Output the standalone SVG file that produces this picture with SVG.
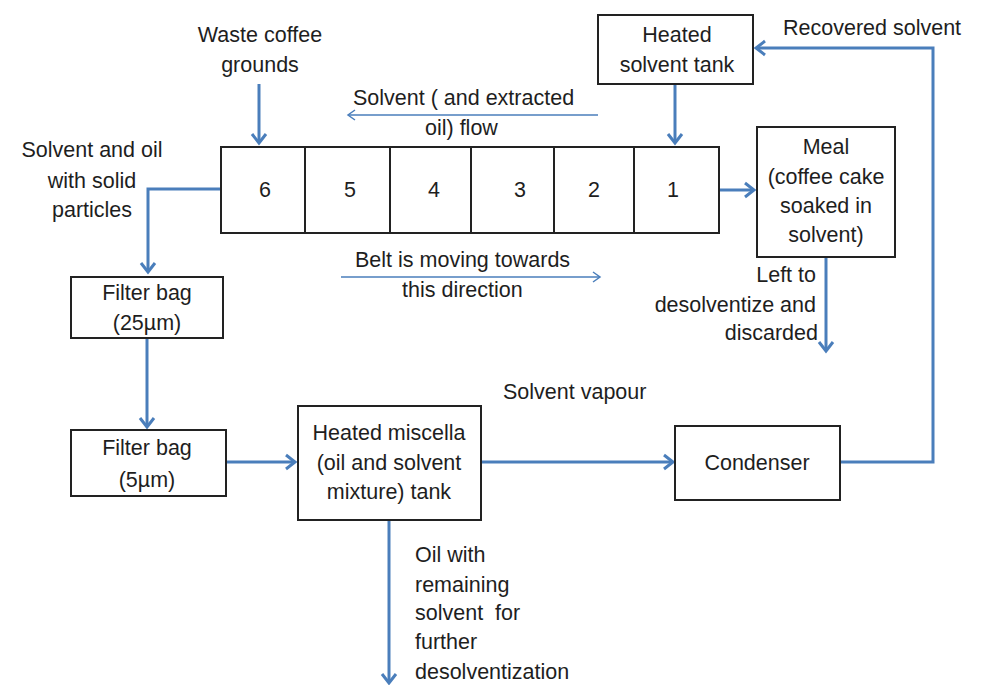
<svg xmlns="http://www.w3.org/2000/svg" width="982" height="685" viewBox="0 0 982 685">
<style>
text{font-family:"Liberation Sans",Arial,sans-serif;font-size:21.5px;fill:#1e1e1e;white-space:pre}
.c{text-anchor:middle}
.e{text-anchor:end}
.box{fill:#fff;stroke:#222;stroke-width:2}
.w{fill:none;stroke:#4a7ebb;stroke-width:3}
.t{fill:none;stroke:#4a7ebb;stroke-width:1.5}
</style>
<defs>
<marker id="ah" markerUnits="userSpaceOnUse" viewBox="-12 -9 14 18" refX="0" refY="0" markerWidth="14" markerHeight="18" orient="auto" overflow="visible">
<path d="M-9,-7 L0,0 L-9,7" fill="none" stroke="#4a7ebb" stroke-width="3"/>
</marker>
<marker id="ahs" markerUnits="userSpaceOnUse" viewBox="-10 -6 12 12" refX="0" refY="0" markerWidth="12" markerHeight="12" orient="auto" overflow="visible">
<path d="M-7,-5 L0,0 L-7,5" fill="none" stroke="#4a7ebb" stroke-width="1.5"/>
</marker>
</defs>
<rect width="982" height="685" fill="#fff"/>

<g id="connectors">
<path class="w" d="M259,84 V143" marker-end="url(#ah)"/>
<path class="w" d="M675,84 V143" marker-end="url(#ah)"/>
<path class="w" d="M719,190 H754" marker-end="url(#ah)"/>
<path class="w" d="M221,189 H148 V272" marker-end="url(#ah)"/>
<path class="w" d="M147,338 V427" marker-end="url(#ah)"/>
<path class="w" d="M226,462 H295" marker-end="url(#ah)"/>
<path class="w" d="M481,462 H673" marker-end="url(#ah)"/>
<path class="w" d="M840,462 H933 V48 H756" marker-end="url(#ah)"/>
<path class="w" d="M826,257 V351" marker-end="url(#ah)"/>
<path class="w" d="M389,520 V683" marker-end="url(#ah)"/>
<path class="t" d="M598,115 H348" marker-end="url(#ahs)"/>
<path class="t" d="M341,277 H600" marker-end="url(#ahs)"/>
</g>

<g id="belt">
<rect class="box" x="221" y="147" width="498" height="86"/>
<path d="M305,147 V233 M390,147 V233 M471,147 V233 M554,147 V233 M634,147 V233" stroke="#222" stroke-width="2"/>
<text class="c" x="265" y="197">6</text>
<text class="c" x="350" y="197">5</text>
<text class="c" x="434" y="197">4</text>
<text class="c" x="520" y="197">3</text>
<text class="c" x="594" y="197">2</text>
<text class="c" x="673" y="197">1</text>
</g>

<g id="heated-solvent-tank">
<rect class="box" x="598" y="15" width="155" height="69"/>
<text class="c" x="677" y="42">Heated</text>
<text class="c" x="677" y="72">solvent tank</text>
</g>

<g id="meal">
<rect class="box" x="757" y="127" width="138" height="130"/>
<text class="c" x="826" y="154">Meal</text>
<text class="c" x="826" y="184">(coffee cake</text>
<text class="c" x="826" y="213">soaked in</text>
<text class="c" x="826" y="242">solvent)</text>
</g>

<g id="filter-bag-25">
<rect class="box" x="71" y="277" width="152" height="61"/>
<text class="c" x="147" y="300">Filter bag</text>
<text class="c" x="147" y="330">(25µm)</text>
</g>

<g id="filter-bag-5">
<rect class="box" x="71" y="430" width="155" height="66"/>
<text class="c" x="147" y="455">Filter bag</text>
<text class="c" x="147" y="487">(5µm)</text>
</g>

<g id="heated-miscella-tank">
<rect class="box" x="298" y="406" width="183" height="114"/>
<text class="c" x="389" y="440">Heated miscella</text>
<text class="c" x="389" y="470">(oil and solvent</text>
<text class="c" x="389" y="499">mixture) tank</text>
</g>

<g id="condenser">
<rect class="box" x="675" y="426" width="165" height="74"/>
<text class="c" x="757" y="470">Condenser</text>
</g>

<g id="labels">
<text class="c" x="260" y="42">Waste coffee</text>
<text class="c" x="260" y="72">grounds</text>
<text x="353" y="105">Solvent ( and extracted</text>
<text x="425" y="135">oil) flow</text>
<text x="355" y="267">Belt is moving towards</text>
<text x="402" y="297">this direction</text>
<text class="c" x="92" y="157">Solvent and oil</text>
<text class="c" x="92" y="188">with solid</text>
<text class="c" x="92" y="217">particles</text>
<text x="783" y="35">Recovered solvent</text>
<text class="e" x="816" y="282">Left to</text>
<text class="e" x="816" y="312">desolventize and</text>
<text class="e" x="818" y="340">discarded</text>
<text x="503" y="399">Solvent vapour</text>
<text x="415" y="562">Oil with</text>
<text x="415" y="592">remaining</text>
<text x="415" y="620">solvent  for</text>
<text x="415" y="649">further</text>
<text x="415" y="679">desolventization</text>
</g>
</svg>
